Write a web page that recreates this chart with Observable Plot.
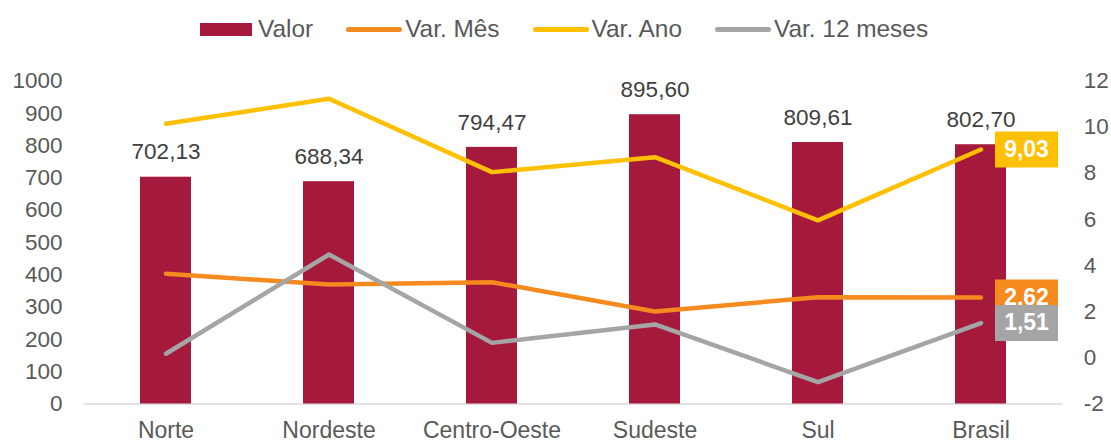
<!DOCTYPE html>
<html>
<head>
<meta charset="utf-8">
<script src="https://cdn.jsdelivr.net/npm/d3@7"></script>
<script src="https://cdn.jsdelivr.net/npm/@observablehq/plot@0.6"></script>
<style>
  html, body { margin: 0; padding: 0; background: #fff; }
  body { width: 1111px; height: 442px; overflow: hidden; font-family: "Liberation Sans", Arial, sans-serif; }
  #legend { height: 56px; box-sizing: border-box; padding: 2px 0 0 200px; display: flex; align-items: center; color: #595959; font-size: 24.4px; white-space: nowrap; }
  .item { display: flex; align-items: center; margin-right: 33px; }
  .sw-bar { width: 52px; height: 13px; margin-right: 6px; }
  .sw-line { width: 56px; height: 5px; border-radius: 3px; margin-right: 3px; }
  #chart svg { display: block; }
</style>
</head>
<body>
<div id="legend"></div>
<div id="chart"></div>
<script>
const categories = ["Norte", "Nordeste", "Centro-Oeste", "Sudeste", "Sul", "Brasil"];
const valor   = [702.13, 688.34, 794.47, 895.60, 809.61, 802.70];
const varMes  = [3.65, 3.18, 3.28, 2.01, 2.63, 2.62];
const varAno  = [10.15, 11.23, 8.05, 8.70, 5.96, 9.03];
const var12   = [0.18, 4.48, 0.65, 1.45, -1.05, 1.51];
const leftTicks  = [0, 100, 200, 300, 400, 500, 600, 700, 800, 900, 1000];
const rightTicks = [-2, 0, 2, 4, 6, 8, 10, 12];
const seriesNames = ["Valor", "Var. Mês", "Var. Ano", "Var. 12 meses"];

const colors = { "Valor": "#A51A3C", "Var. Mês": "#F58A1F", "Var. Ano": "#FFC000", "Var. 12 meses": "#A5A5A5" };
const FONT = "'Liberation Sans', Arial, sans-serif";

// right axis (-2..12) mapped onto left scale (0..1000)
const rMin = rightTicks[0], rMax = rightTicks[rightTicks.length - 1];
const lMin = leftTicks[0], lMax = leftTicks[leftTicks.length - 1];
const toLeft = v => lMin + (v - rMin) / (rMax - rMin) * (lMax - lMin);
const fromLeft = v => rMin + (v - lMin) / (lMax - lMin) * (rMax - rMin);
const fmt = v => v.toFixed(2).replace(".", ",");

const bars = categories.map((c, i) => ({ cat: c, v: valor[i] }));
const lineSeries = [
  { name: "Var. Mês", values: varMes },
  { name: "Var. Ano", values: varAno },
  { name: "Var. 12 meses", values: var12 }
];

// legend
const legend = document.getElementById("legend");
seriesNames.forEach((n, i) => {
  const it = document.createElement("div");
  it.className = "item";
  const sw = document.createElement("div");
  sw.className = i === 0 ? "sw-bar" : "sw-line";
  sw.style.background = colors[n];
  const t = document.createElement("span");
  t.textContent = n;
  it.appendChild(sw); it.appendChild(t);
  legend.appendChild(it);
});

// end-label box symbol (fixed-size rectangle drawn to the right of the point)
const boxSymbol = { draw(ctx) { ctx.rect(14, -18, 63, 36); } };

const marks = [
  Plot.ruleY([0], { stroke: "#D9D9D9", strokeWidth: 1.5 }),
  Plot.barY(bars, { x: "cat", y: "v", fill: colors["Valor"], insetLeft: 56, insetRight: 56 }),
  Plot.text(bars, { x: "cat", y: "v", text: d => fmt(d.v), dy: -25, fill: "#404040", fontSize: 22.5, fontFamily: FONT }),
  Plot.axisY({ ticks: leftTicks, tickSize: 0, tickPadding: 22, tickFormat: d => String(d), fill: "#595959", fontSize: 22.5, fontFamily: FONT, label: null }),
  Plot.axisY(rightTicks.map(toLeft), { anchor: "right", tickSize: 0, tickPadding: 21, tickFormat: d => String(Math.round(fromLeft(d))), fill: "#595959", fontSize: 22.5, fontFamily: FONT, label: null }),
  Plot.axisX({ tickSize: 0, tickPadding: 18, fill: "#595959", fontSize: 23, fontFamily: FONT, label: null })
];

lineSeries.forEach(s => {
  const rows = categories.map((c, i) => ({ cat: c, v: s.values[i] }));
  marks.push(Plot.line(rows, { x: "cat", y: d => toLeft(d.v), stroke: colors[s.name], strokeWidth: 4.5, strokeLinecap: "round", strokeLinejoin: "round" }));
});
lineSeries.forEach(s => {
  const last = [{ cat: categories[categories.length - 1], v: s.values[s.values.length - 1] }];
  marks.push(Plot.dot(last, { x: "cat", y: d => toLeft(d.v), symbol: boxSymbol, r: 5, fill: colors[s.name], stroke: null }));
  marks.push(Plot.text(last, { x: "cat", y: d => toLeft(d.v), text: d => fmt(d.v), dx: 45.5, fill: "white", fontWeight: "bold", fontSize: 23, fontFamily: FONT }));
});

const chart = Plot.plot({
  width: 1111,
  height: 386,
  marginLeft: 84,
  marginRight: 48.7,
  marginTop: 24.5,
  marginBottom: 38.5,
  x: { domain: categories, padding: 0, axis: null },
  y: { domain: [lMin, lMax], axis: null },
  style: { fontFamily: FONT, fontSize: "22.5px", color: "#595959", background: "white", overflow: "visible" },
  marks
});
document.getElementById("chart").appendChild(chart);
</script>
</body>
</html>
